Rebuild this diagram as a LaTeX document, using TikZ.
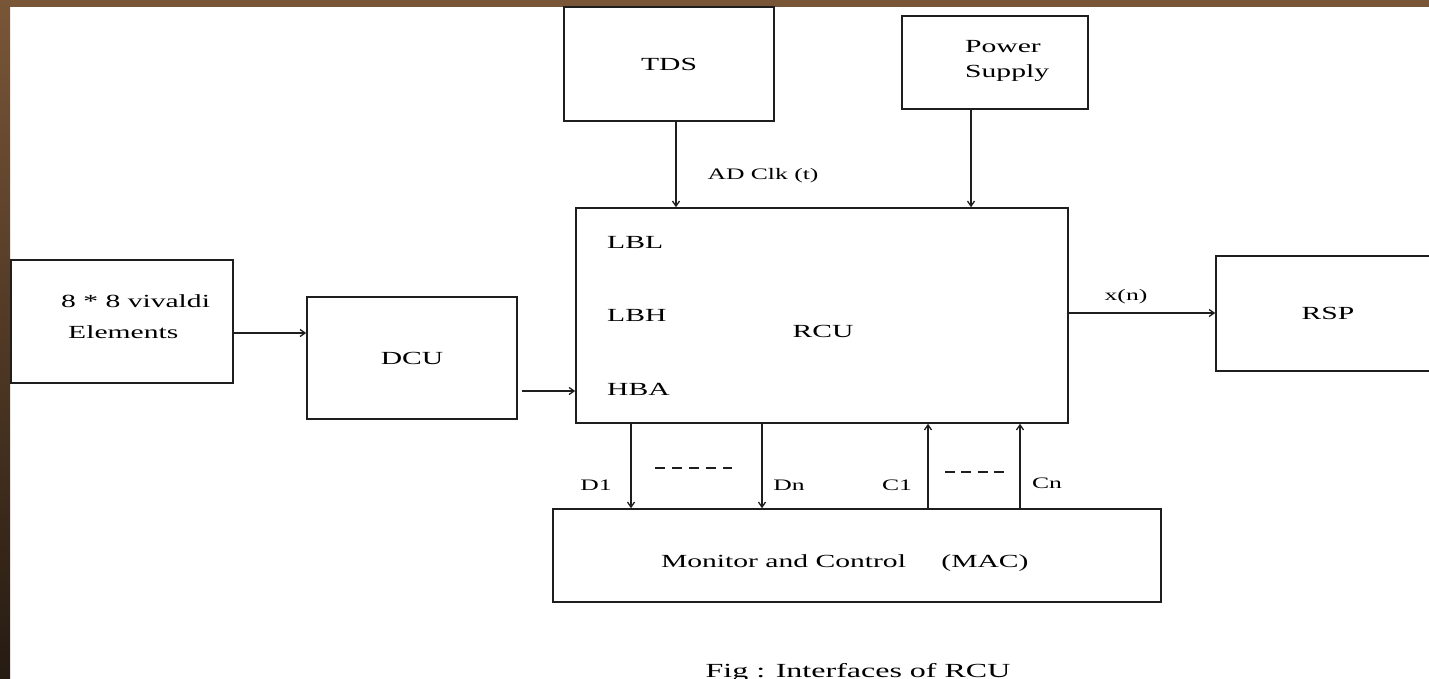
\documentclass[tikz,border=0pt]{standalone}
\usepackage{fontspec}
\setmainfont[FakeStretch=1.6]{Liberation Serif}
\usetikzlibrary{arrows.meta}

\definecolor{bgbrown}{RGB}{122,86,56}
\definecolor{bgdark}{RGB}{38,27,18}
\definecolor{ink}{RGB}{30,30,30}

\tikzset{
  blk/.style={draw=ink, line width=1.6pt, inner sep=0pt, font=\fontsize{18.5}{25}\selectfont},
  txt/.style={inner sep=0pt, font=\fontsize{18.5}{25}\selectfont},
  sig/.style={inner sep=0pt, font=\fontsize{16}{19}\selectfont},
  wire/.style={draw=ink, line width=1.3pt, -{Straight Barb[length=5pt,width=7pt]}},
}

\begin{document}
\begin{tikzpicture}[x=1pt,y=-1pt]
  \useasboundingbox (0,0) rectangle (1429,679);
  \clip (0,0) rectangle (1429,679);
  \fill[white] (0,0) rectangle (1429,679);

  % border of the slide
  \fill[bgbrown] (0,0) rectangle (1429,7);
  \shade[top color=bgbrown, bottom color=bgdark] (0,0) rectangle (10,679);

  % blocks
  \node[blk, minimum width=222pt, minimum height=123pt] (elem) at (122,321.5) {};
  \node[txt, anchor=west, align=left] (elemtxt) at (61,317) {8 * 8 vivaldi\\[6pt]\hspace*{7pt}Elements};
  \node[blk, minimum width=210pt, minimum height=122pt] (dcu) at (412,358) {DCU};
  \node[blk, minimum width=210pt, minimum height=114pt] (tds) at (669,64) {TDS};
  \node[blk, minimum width=186pt, minimum height=93pt] (pwr) at (995,62.5) {};
  \node[txt, anchor=west, align=left] (pwrtxt) at (965,61) {Power\\Supply};
  \node[blk, minimum width=492pt, minimum height=215pt] (rcu) at (822,315.5) {};
  \node[blk, minimum width=224pt, minimum height=115pt] (rsp) at (1328,313.5) {RSP};
  \node[blk, minimum width=608pt, minimum height=93pt] (mac) at (857,555.5) {};

  % text inside RCU and MAC
  \node[txt, anchor=west] (lbl) at (607,242) {LBL};
  \node[txt, anchor=west] (lbh) at (607,315) {LBH};
  \node[txt, anchor=west] (hba) at (607,389) {HBA};
  \node[txt] (rcutxt) at (823,331.5) {RCU};
  \node[txt, anchor=base] (mactxt) at (783.5,567) {Monitor and Control};
  \node[txt, anchor=base] (macabbr) at (985,567) {(MAC)};

  % inputs to RCU
  \coordinate (tdsout) at ([xshift=7pt]tds.south);
  \draw[wire] (tdsout) -- (tdsout |- rcu.north);
  \node[sig, anchor=base] (adclk) at (763,180) {AD Clk (t)};
  \coordinate (pwrout) at ([xshift=-24pt]pwr.south);
  \draw[wire] (pwrout) -- (pwrout |- rcu.north);
  \coordinate (elemout) at ([yshift=-11.5pt]elem.east);
  \draw[wire] (elemout) -- (elemout -| dcu.west);
  \coordinate (dcuout) at ([xshift=4pt,yshift=-33pt]dcu.east);
  \draw[wire] (dcuout) -- (dcuout -| rcu.west);

  % output to RSP
  \coordinate (rcuout) at ([yshift=2.5pt]rcu.east);
  \draw[wire] (rcuout) -- (rcuout -| rsp.west);
  \node[sig, anchor=base] (xn) at (1126,300) {x(n)};

  % data lines down, control lines up
  \foreach \nm/\dx in {d1/-191, dn/-60}{
    \coordinate (\nm) at ([xshift=\dx pt]rcu.south);
    \draw[wire] (\nm) -- (\nm |- mac.north);
  }
  \foreach \nm/\dx in {c1/106, cn/198}{
    \coordinate (\nm) at ([xshift=\dx pt]rcu.south);
    \draw[wire] (\nm |- mac.north) -- (\nm);
  }
  \node[sig, anchor=base] (d1txt) at (596,490) {D1};
  \node[sig, anchor=base] (dntxt) at (789,490) {Dn};
  \node[sig, anchor=base] (c1txt) at (897,490) {C1};
  \node[sig, anchor=base] (cntxt) at (1047,488) {Cn};
  \draw[ink, line width=1.2pt, dash pattern=on 10pt off 7pt] (655,468) -- (732,468);
  \draw[ink, line width=1.2pt, dash pattern=on 10pt off 6.3pt] (945,472) -- (1004,472);

  % caption
  \node[inner sep=0pt, anchor=base, font=\fontsize{20}{24}\selectfont] (caption) at (858,677) {Fig : Interfaces of RCU};
\end{tikzpicture}
\end{document}
